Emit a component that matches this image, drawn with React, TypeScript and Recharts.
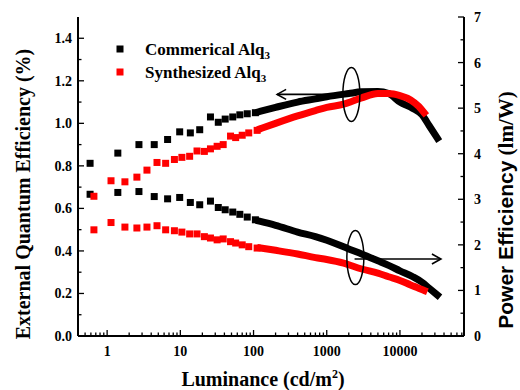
import React from "react";
import {
  ComposedChart,
  XAxis,
  YAxis,
  Scatter,
  Line,
  ReferenceLine,
  ReferenceDot,
  Customized,
} from "recharts";

const SERIF = '"Times New Roman", "Liberation Serif", serif';
const SANS = 'Arial, "Liberation Sans", sans-serif';
const RED = "#ff0000";

// Commerical Alq3 — sparse low-luminance points (cd/m2)
const commLumLow = [0.585, 1.4, 2.72, 4.4, 6.7, 9.8, 13.7, 18.4, 25.8, 33, 41, 52, 65, 82, 106];
const commEqeLow = [0.812, 0.86, 0.9, 0.9, 0.924, 0.96, 0.955, 0.97, 1.03, 1.005, 1.02, 1.03, 1.04, 1.045, 1.05];
const commPeLow = [3.11, 3.15, 3.17, 3.06, 3.01, 3.04, 2.93, 2.88, 2.96, 2.82, 2.77, 2.72, 2.67, 2.61, 2.55];

// Commerical Alq3 — dense high-luminance part
const commLumHigh = [120, 200, 400, 700, 1000, 2000, 3000, 5000, 7000, 10000, 15000, 20000, 25000, 32400];
const commEqeHigh = [1.055, 1.075, 1.1, 1.115, 1.125, 1.14, 1.148, 1.15, 1.14, 1.1, 1.07, 1.04, 0.99, 0.93];
const commPeHigh = [2.52, 2.43, 2.28, 2.18, 2.1, 1.91, 1.8, 1.65, 1.55, 1.43, 1.3, 1.18, 1.05, 0.9];

// Synthesized Alq3 — sparse low-luminance points
const synLumLow = [0.66, 1.13, 1.75, 2.55, 3.5, 4.8, 6.3, 8.3, 10.5, 13.4, 16.9, 21.3, 25.8, 31.8, 38.5, 48.5, 57, 70, 86, 112];
const synEqeLow = [0.657, 0.73, 0.725, 0.747, 0.78, 0.816, 0.812, 0.83, 0.84, 0.845, 0.87, 0.868, 0.88, 0.892, 0.9, 0.94, 0.933, 0.944, 0.955, 0.967];
const synPeLow = [2.33, 2.49, 2.39, 2.37, 2.39, 2.42, 2.33, 2.31, 2.28, 2.24, 2.24, 2.18, 2.15, 2.11, 2.13, 2.07, 2.04, 2.0, 1.96, 1.93];

// Synthesized Alq3 — dense high-luminance part
const synLumHigh = [125, 200, 400, 700, 1000, 1700, 3000, 5000, 7000, 10000, 14000, 18000, 21400];
const synEqeHigh = [0.975, 1.0, 1.035, 1.06, 1.075, 1.09, 1.12, 1.14, 1.14, 1.13, 1.11, 1.08, 1.05];
const synPeHigh = [1.93, 1.88, 1.8, 1.72, 1.68, 1.6, 1.47, 1.38, 1.3, 1.22, 1.12, 1.05, 1.0];

const xMajor = [1, 10, 100, 1000, 10000];
const eqeTicks = [0, 0.1, 0.2, 0.3, 0.4, 0.5, 0.6, 0.7, 0.8, 0.9, 1.0, 1.1, 1.2, 1.3, 1.4];
const peTicks = [0, 0.5, 1, 1.5, 2, 2.5, 3, 3.5, 4, 4.5, 5, 5.5, 6, 6.5, 7];

const zip = (lum: number[], vals: number[]) => lum.map((L, i) => ({ L, v: vals[i] }));

const X_DOMAIN = [0.4, 75000];
const xTicks: number[] = [];
[0.1, 1, 10, 100, 1000, 10000].forEach((d) => {
  for (let m = 1; m <= 9; m++) {
    const v = +(d * m).toPrecision(6);
    if (v >= X_DOMAIN[0] && v <= X_DOMAIN[1]) xTicks.push(v);
  }
});

const labelStyle = { fontFamily: SERIF, fontWeight: "bold" as const, fontSize: 14, fill: "#000" };

const BottomTick = ({ x, y, payload }: any) => {
  const major = xMajor.includes(payload.value);
  return (
    <g>
      <line x1={x} x2={x} y1={y} y2={y - (major ? 6 : 3.5)} stroke="#000" strokeWidth={1.3} />
      {major && (
        <text x={x} y={y + 20} textAnchor="middle" {...labelStyle}>
          {payload.value}
        </text>
      )}
    </g>
  );
};

const TopTick = ({ x, y, payload }: any) => {
  const major = xMajor.includes(payload.value);
  return <line x1={x} x2={x} y1={y} y2={y + (major ? 6 : 3.5)} stroke="#000" strokeWidth={1.3} />;
};

const LeftTick = ({ x, y, payload }: any) => {
  const major = Math.round(payload.value * 10) % 2 === 0;
  return (
    <g>
      <line x1={x} x2={x + (major ? 6 : 3.5)} y1={y} y2={y} stroke="#000" strokeWidth={1.3} />
      {major && (
        <text x={x - 6} y={y + 5} textAnchor="end" {...labelStyle}>
          {payload.value.toFixed(1)}
        </text>
      )}
    </g>
  );
};

const RightTick = ({ x, y, payload }: any) => {
  const major = Number.isInteger(payload.value);
  return (
    <g>
      <line x1={x} x2={x - (major ? 6 : 3.5)} y1={y} y2={y} stroke="#000" strokeWidth={1.3} />
      {major && (
        <text x={x + 10} y={y + 5} textAnchor="start" {...labelStyle}>
          {payload.value}
        </text>
      )}
    </g>
  );
};

const Square = ({ cx, cy, fill }: any) => <rect x={cx - 3.5} y={cy - 3.5} width={7} height={7} fill={fill} />;

const Arrow = ({ x1, y1, x2, y2 }: any) => {
  const dir = Math.sign(x2 - x1);
  return (
    <g stroke="#000" strokeWidth={1.6} fill="none">
      <line x1={x1} y1={y1} x2={x2} y2={y2} />
      <polyline points={`${x2 - dir * 9},${y2 - 5} ${x2},${y2} ${x2 - dir * 9},${y2 + 5}`} />
    </g>
  );
};

const Ring = ({ cx, cy }: any) => (
  <ellipse cx={cx} cy={cy} rx={8.5} ry={27} fill="none" stroke="#000" strokeWidth={1.5} />
);

const Decorations = () => (
  <g>
    <rect x={116.5} y={45.5} width={7} height={7} fill="#000" />
    <text x={145} y={55} fontFamily={SERIF} fontWeight="bold" fontSize={17}>
      Commerical Alq<tspan fontSize={11} dy={4}>3</tspan>
    </text>
    <rect x={116.5} y={68.5} width={7} height={7} fill={RED} />
    <text x={145} y={78} fontFamily={SERIF} fontWeight="bold" fontSize={17}>
      Synthesized Alq<tspan fontSize={11} dy={4}>3</tspan>
    </text>
    <text x={263} y={386} textAnchor="middle" fontFamily={SERIF} fontWeight="bold" fontSize={20}>
      Luminance (cd/m<tspan fontSize={12} dy={-8}>2</tspan>
      <tspan dy={8}>)</tspan>
    </text>
    <text transform="translate(30,194) rotate(-90)" textAnchor="middle" fontFamily={SERIF} fontWeight="bold" fontSize={20}>
      External Quantum Efficiency (%)
    </text>
    <text transform="translate(513,210) rotate(-90)" textAnchor="middle" fontWeight="bold" fontSize={21}>
      <tspan fontFamily={SANS}>Power Efficiency</tspan>
      <tspan fontFamily={SERIF}> (lm/W)</tspan>
    </text>
  </g>
);

export default function App() {
  return (
    <div style={{ position: "absolute", left: 0, top: 0, background: "#fff" }}>
      <ComposedChart width={520} height={390} margin={{ top: 17, right: 0, bottom: 0, left: 0 }}>
        <XAxis
          xAxisId="b"
          dataKey="L"
          type="number"
          scale="log"
          domain={X_DOMAIN}
          allowDataOverflow
          ticks={xTicks}
          interval={0}
          height={54}
          tickSize={0}
          tickMargin={0}
          tick={<BottomTick />}
          tickLine={false}
          axisLine={{ stroke: "#000", strokeWidth: 2 }}
        />
        <XAxis
          xAxisId="t"
          orientation="top"
          dataKey="L"
          type="number"
          scale="log"
          domain={X_DOMAIN}
          allowDataOverflow
          ticks={xTicks}
          interval={0}
          height={0}
          tickSize={0}
          tickMargin={0}
          tick={<TopTick />}
          tickLine={false}
          axisLine={{ stroke: "#000", strokeWidth: 2 }}
        />
        <YAxis
          yAxisId="eqe"
          type="number"
          domain={[0, 1.5]}
          ticks={eqeTicks}
          interval={0}
          width={78}
          tickSize={0}
          tickMargin={0}
          tick={<LeftTick />}
          tickLine={false}
          axisLine={{ stroke: "#000", strokeWidth: 2 }}
        />
        <YAxis
          yAxisId="pe"
          orientation="right"
          type="number"
          domain={[0, 7]}
          ticks={peTicks}
          interval={0}
          width={56}
          tickSize={0}
          tickMargin={0}
          tick={<RightTick />}
          tickLine={false}
          axisLine={{ stroke: "#000", strokeWidth: 2 }}
        />

        <Line xAxisId="b" yAxisId="eqe" data={zip(commLumHigh, commEqeHigh)} dataKey="v" type="monotone" stroke="#000" strokeWidth={7} strokeLinecap="square" dot={false} isAnimationActive={false} />
        <Scatter xAxisId="b" yAxisId="eqe" data={zip(commLumLow, commEqeLow)} dataKey="v" fill="#000" shape={<Square />} isAnimationActive={false} />
        <Line xAxisId="b" yAxisId="pe" data={zip(commLumHigh, commPeHigh)} dataKey="v" type="monotone" stroke="#000" strokeWidth={7} strokeLinecap="square" dot={false} isAnimationActive={false} />
        <Scatter xAxisId="b" yAxisId="pe" data={zip(commLumLow, commPeLow)} dataKey="v" fill="#000" shape={<Square />} isAnimationActive={false} />

        <Line xAxisId="b" yAxisId="eqe" data={zip(synLumHigh, synEqeHigh)} dataKey="v" type="monotone" stroke={RED} strokeWidth={7} strokeLinecap="square" dot={false} isAnimationActive={false} />
        <Scatter xAxisId="b" yAxisId="eqe" data={zip(synLumLow, synEqeLow)} dataKey="v" fill={RED} shape={<Square />} isAnimationActive={false} />
        <Line xAxisId="b" yAxisId="pe" data={zip(synLumHigh, synPeHigh)} dataKey="v" type="monotone" stroke={RED} strokeWidth={7} strokeLinecap="square" dot={false} isAnimationActive={false} />
        <Scatter xAxisId="b" yAxisId="pe" data={zip(synLumLow, synPeLow)} dataKey="v" fill={RED} shape={<Square />} isAnimationActive={false} />

        <ReferenceDot xAxisId="b" yAxisId="eqe" x={2170} y={1.136} shape={<Ring />} />
        <ReferenceLine xAxisId="b" yAxisId="eqe" segment={[{ x: 2300, y: 1.136 }, { x: 210, y: 1.136 }]} shape={<Arrow />} />
        <ReferenceDot xAxisId="b" yAxisId="pe" x={2460} y={1.72} shape={<Ring />} />
        <ReferenceLine xAxisId="b" yAxisId="pe" segment={[{ x: 2400, y: 1.69 }, { x: 36300, y: 1.69 }]} shape={<Arrow />} />

        <Customized component={<Decorations />} />
      </ComposedChart>
    </div>
  );
}
